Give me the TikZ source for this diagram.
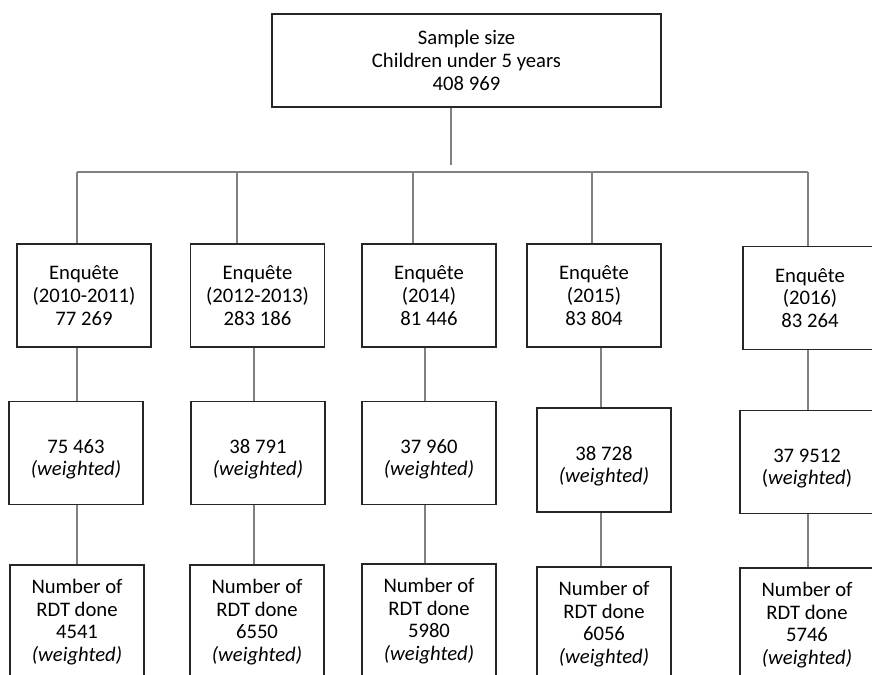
\documentclass[tikz,border=0pt]{standalone}
\usepackage{fontspec}
\setmainfont{Carlito}
\usetikzlibrary{positioning}
\newcommand{\wpad}{\rule{0pt}{16pt}}
\tikzstyle{every node}=[font=\fontsize{12.4}{13.6}\selectfont]
\tikzstyle{box}=[draw=black!85,line width=1.1pt,align=center,inner sep=2pt,minimum width=80.4pt,minimum height=61.8pt]
\tikzstyle{link}=[draw=black!50,line width=0.9pt]
\begin{document}
\begin{tikzpicture}[x=0.6pt,y=-0.6pt]
\useasboundingbox (0,0) rectangle (872,675);
%total
\node[box,minimum width=233.4pt,minimum height=55.8pt] (total) at (466.5,60.5)
{Sample size\\Children under 5 years\\408 969};
%enquetes
\node[box] (enq1) at (84,295.5) {Enquête\\(2010-2011)\\77 269};
\node[box] (enq2) at (257.5,295.5) {Enquête\\(2012-2013)\\283 186};
\node[box] (enq3) at (429,295.5) {Enquête\\(2014)\\81 446};
\node[box] (enq4) at (594,295.5) {Enquête\\(2015)\\83 804};
\node[box] (enq5) at (810,298) {Enquête\\(2016)\\83 264};
%weighted
\node[box] (wgt1) at (76,453) {\wpad 75 463\\\textit{(weighted)}};
\node[box] (wgt2) at (258,453) {\wpad 38 791\\\textit{(weighted)}};
\node[box] (wgt3) at (429,453) {\wpad 37 960\\\textit{(weighted)}};
\node[box,minimum height=62.4pt] (wgt4) at (604,460) {\wpad 38 728\\\textit{(weighted)}};
\node[box] (wgt5) at (807,462) {\wpad 37 9512\\(\textit{weighted})};
%RDT
\node[box,minimum height=68.4pt] (rdt1) at (77,622) {Number of\\RDT done\\4541\\\textit{(weighted)}};
\node[box,minimum height=68.4pt] (rdt2) at (257,622) {Number of\\RDT done\\6550\\\textit{(weighted)}};
\node[box,minimum height=68.4pt] (rdt3) at (429,621) {Number of\\RDT done\\5980\\\textit{(weighted)}};
\node[box,minimum height=68.4pt] (rdt4) at (604,624) {Number of\\RDT done\\6056\\\textit{(weighted)}};
\node[box,minimum height=68.4pt] (rdt5) at (807,625) {Number of\\RDT done\\5746\\\textit{(weighted)}};
%bus
\coordinate (stem) at (451,165);
\coordinate (bus1) at (77,172);
\coordinate (bus2) at (237,172);
\coordinate (bus3) at (413,172);
\coordinate (bus4) at (592,172);
\coordinate (bus5) at (808,172);
\draw[link] (total.south -| stem) -- (stem);
\draw[link] (bus1) -- (bus5);
\foreach \i in {1,...,5}
  \draw[link] (bus\i) -- (bus\i |- enq\i.north);
%columns
\coordinate (col1) at (77,0);
\coordinate (col2) at (254,0);
\coordinate (col3) at (425,0);
\coordinate (col4) at (601,0);
\coordinate (col5) at (808,0);
\foreach \i in {1,...,5}{
  \draw[link] (col\i |- enq\i.south) -- (col\i |- wgt\i.north);
  \draw[link] (col\i |- wgt\i.south) -- (col\i |- rdt\i.north);
}
\end{tikzpicture}
\end{document}
